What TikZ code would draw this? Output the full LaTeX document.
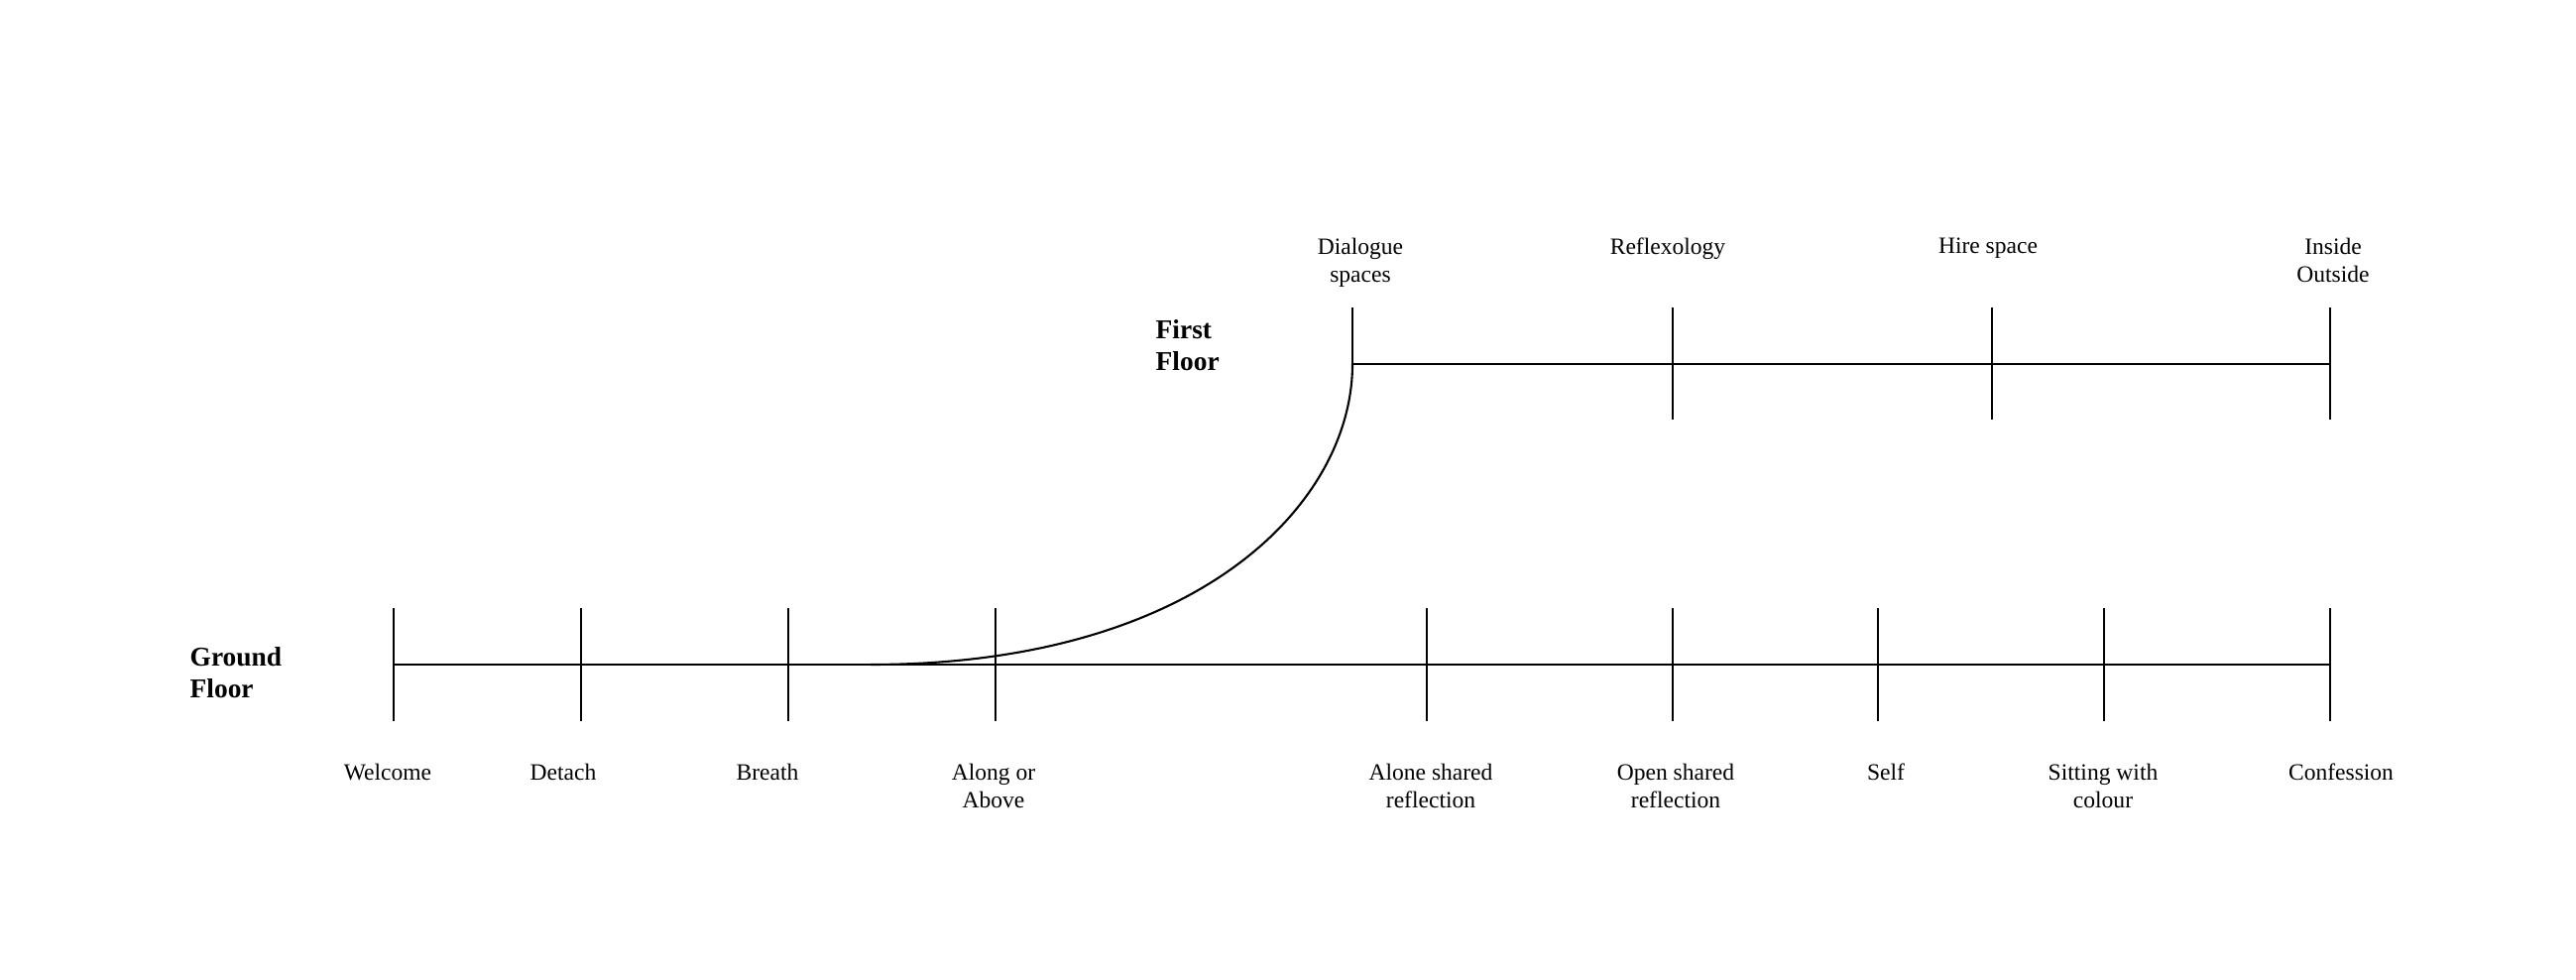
\documentclass[tikz,border=0pt]{standalone}
\usepackage{fontspec}
\setmainfont{Liberation Serif}
\usetikzlibrary{positioning}
\tikzset{
  lbl/.style={font=\fontsize{6.7}{8}\selectfont, align=center, inner sep=0pt, anchor=north},
  floorlbl/.style={font=\fontsize{7.8}{9.1}\selectfont\bfseries, align=left, inner sep=0pt, anchor=north west},
  tickline/.style={line width=0.6pt},
  floorline/.style={line width=0.6pt}
}
\begin{document}
\begin{tikzpicture}
  \useasboundingbox (0,0) rectangle (25.98,9.87);
  % ground floor line and ticks
  \coordinate (g1) at (3.97,3.17);\coordinate (g9) at (23.50,3.17);
  \draw[floorline] (g1) -- (g9);
  \foreach \x/\n in {3.97/1,5.86/2,7.95/3,10.04/4,14.39/5,16.87/6,18.94/7,21.22/8,23.50/9}{
    \coordinate (gt\n) at (\x,3.74);\coordinate (gb\n) at (\x,2.60);
    \draw[tickline] (gt\n) -- (gb\n);
  }
  % first floor line and ticks
  \coordinate (f1) at (13.64,6.20);\coordinate (f4) at (23.50,6.20);
  \draw[floorline] (f1) -- (f4);
  \coordinate (ft1) at (13.64,6.77);
  \draw[tickline] (ft1) -- (f1);
  \foreach \x/\n in {16.87/2,20.09/3,23.50/4}{
    \coordinate (ft\n) at (\x,6.77);\coordinate (fb\n) at (\x,5.64);
    \draw[tickline] (ft\n) -- (fb\n);
  }
  % stair curve
  \coordinate (c0) at (8.78,3.17);
  \draw[floorline] (c0) .. controls (12.10,3.17) and (13.64,4.80) .. (f1);
  % floor names
  \node[floorlbl] (ground) at (1.91,3.35) {Ground\\Floor};
  \node[floorlbl] (first) at (11.65,6.65) {First\\Floor};
  % ground floor labels
  \node[lbl] (welcome) at (3.91,2.18) {Welcome};
  \node[lbl] (detach) at (5.68,2.18) {Detach};
  \node[lbl] (breath) at (7.74,2.18) {Breath};
  \node[lbl] (along) at (10.02,2.18) {Along or\\Above};
  \node[lbl] (alone) at (14.43,2.18) {Alone shared\\reflection};
  \node[lbl] (open) at (16.90,2.18) {Open shared\\reflection};
  \node[lbl] (self) at (19.02,2.18) {Self};
  \node[lbl] (sitting) at (21.21,2.18) {Sitting with\\colour};
  \node[lbl] (confession) at (23.61,2.18) {Confession};
  % first floor labels
  \node[lbl] (dialogue) at (13.72,7.48) {Dialogue\\spaces};
  \node[lbl] (reflex) at (16.82,7.48) {Reflexology};
  \node[lbl] (hire) at (20.05,7.48) {Hire space};
  \node[lbl] (inside) at (23.53,7.48) {Inside\\Outside};
\end{tikzpicture}
\end{document}
